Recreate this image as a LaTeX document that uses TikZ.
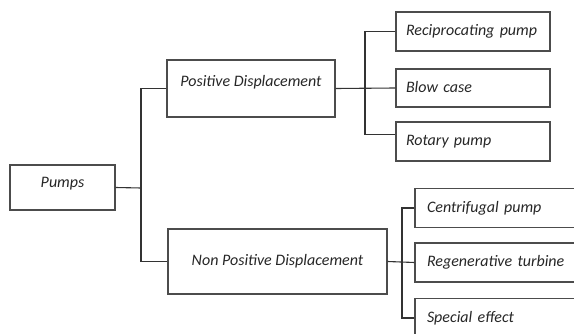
\documentclass[tikz,border=0pt]{standalone}
\usepackage{fontspec}
\setmainfont{Carlito}
\usepackage{tikz}
\tikzset{
	block/.style    = {draw=black!70, line width=1.1pt, rectangle, inner ysep=0pt,
		font=\fontsize{16}{18}\selectfont\itshape, text=black!85},
	leaf/.style     = {block, minimum width=154pt, minimum height=39pt, inner xsep=10pt,
		text width=134pt, align=left, text height=11pt, text depth=2pt},
	bigleaf/.style  = {leaf, minimum width=180pt, inner xsep=12pt, text width=156pt},
	junction/.style = {coordinate}, % branch point
	wire/.style     = {draw=black!80, line width=1.1pt}
}

\begin{document}
\begin{tikzpicture}[auto, x=1pt, y=-1pt]
\path[use as bounding box, clip] (0,0) rectangle (574,334);
\draw
% Drawing the blocks of the tree
node at (62.5,187.5)[block, minimum width=105pt, minimum height=45pt, text height=11pt, text depth=11pt] (pumps) {Pumps}
node at (251,88.5)[block, minimum width=168pt, minimum height=57pt, text height=11pt, text depth=15pt] (pd) {Positive Displacement}
node at (277.5,261.5)[block, minimum width=219pt, minimum height=65pt, text height=11pt, text depth=2pt] (npd) {Non Positive Displacement}
node at (473,31.5)[leaf] (recip) {Reciprocating pump}
node at (473,88)[leaf, minimum height=38pt] (blow) {Blow case}
node at (473,141.5)[leaf] (rotary) {Rotary pump}
node at (505,208)[bigleaf] (centri) {Centrifugal pump}
node at (505,262.5)[bigleaf] (regen) {Regenerative turbine}
node at (505,318)[bigleaf] (special) {Special effect};

% branch points
\draw
node at (141,188)[junction] (j1) {}
node at (365,88)[junction] (j2) {}
node at (402,262)[junction] (j3) {};

\draw[wire](pumps.east) -- (j1);
\draw[wire](pd.west) -| (j1) |- (npd.west);
\draw[wire](pd.east) -- (blow.west);
\draw[wire](recip.west) -| (j2) |- ([yshift=7pt]rotary.west);
\draw[wire](npd.east) -- (regen.west);
\draw[wire](centri.west) -| (j3) |- (special.west);
\end{tikzpicture}
\end{document}
